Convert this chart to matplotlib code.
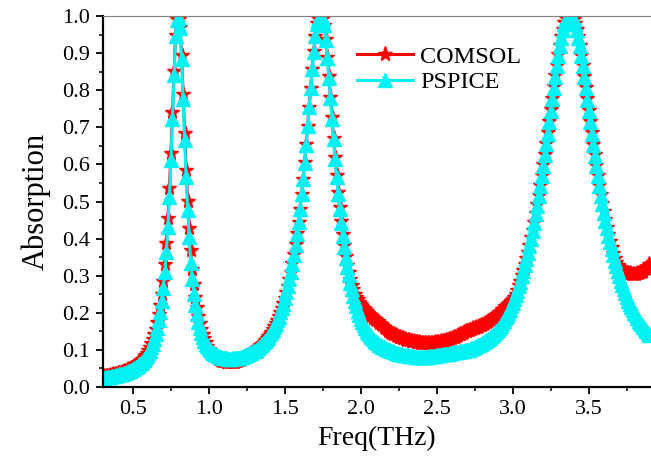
import matplotlib

matplotlib.use("Agg")
import matplotlib.pyplot as plt
import numpy as np
from matplotlib.ticker import MultipleLocator

plt.rcParams["font.family"] = ["Liberation Serif", "DejaVu Serif"]

# frequency sweep (THz), 0.01 THz step
freq_start, freq_stop, freq_step = 0.30, 3.90, 0.01
freq = np.round(np.arange(freq_start, freq_stop + freq_step / 2, freq_step), 2)

comsol = [
    0.028, 0.029, 0.030, 0.030, 0.031, 0.032, 0.033, 0.034, 0.035, 0.036,
    0.037, 0.038, 0.039, 0.041, 0.043, 0.044, 0.046, 0.048, 0.049, 0.052,
    0.054, 0.057, 0.060, 0.063, 0.067, 0.071, 0.075, 0.080, 0.086, 0.093,
    0.100, 0.108, 0.118, 0.129, 0.142, 0.157, 0.175, 0.196, 0.220, 0.250,
    0.287, 0.332, 0.388, 0.455, 0.536, 0.632, 0.740, 0.852, 0.950, 0.992,
    0.993, 0.970, 0.895, 0.790, 0.684, 0.586, 0.501, 0.429, 0.368, 0.318,
    0.277, 0.243, 0.215, 0.192, 0.173, 0.157, 0.143, 0.131, 0.120, 0.111,
    0.103, 0.096, 0.090, 0.085, 0.081, 0.078, 0.075, 0.073, 0.071, 0.070,
    0.069, 0.068, 0.068, 0.067, 0.067, 0.067, 0.068, 0.068, 0.069, 0.070,
    0.072, 0.074, 0.076, 0.078, 0.081, 0.084, 0.087, 0.090, 0.093, 0.096,
    0.099, 0.102, 0.106, 0.109, 0.113, 0.117, 0.121, 0.126, 0.131, 0.137,
    0.143, 0.149, 0.156, 0.164, 0.172, 0.181, 0.191, 0.202, 0.213, 0.226,
    0.240, 0.256, 0.272, 0.291, 0.311, 0.333, 0.358, 0.385, 0.414, 0.446,
    0.481, 0.520, 0.561, 0.606, 0.654, 0.704, 0.755, 0.807, 0.858, 0.905,
    0.947, 0.980, 0.995, 0.999, 0.998, 0.994, 0.977, 0.938, 0.890, 0.838,
    0.783, 0.727, 0.672, 0.620, 0.571, 0.526, 0.485, 0.447, 0.413, 0.382,
    0.354, 0.330, 0.309, 0.291, 0.276, 0.263, 0.252, 0.243, 0.236, 0.230,
    0.225, 0.219, 0.214, 0.209, 0.204, 0.199, 0.195, 0.191, 0.187, 0.183,
    0.180, 0.177, 0.173, 0.170, 0.166, 0.163, 0.159, 0.156, 0.152, 0.149,
    0.146, 0.144, 0.142, 0.140, 0.138, 0.136, 0.134, 0.133, 0.131, 0.130,
    0.128, 0.127, 0.126, 0.125, 0.124, 0.123, 0.122, 0.121, 0.120, 0.119,
    0.119, 0.118, 0.118, 0.118, 0.118, 0.118, 0.118, 0.119, 0.119, 0.120,
    0.120, 0.121, 0.122, 0.123, 0.124, 0.125, 0.126, 0.127, 0.129, 0.130,
    0.132, 0.134, 0.136, 0.138, 0.140, 0.142, 0.144, 0.146, 0.148, 0.150,
    0.152, 0.153, 0.155, 0.156, 0.158, 0.159, 0.161, 0.162, 0.164, 0.166,
    0.168, 0.170, 0.172, 0.175, 0.178, 0.181, 0.184, 0.187, 0.190, 0.194,
    0.198, 0.201, 0.205, 0.209, 0.213, 0.217, 0.221, 0.225, 0.229, 0.233,
    0.238, 0.243, 0.251, 0.262, 0.274, 0.287, 0.301, 0.316, 0.332, 0.348,
    0.365, 0.384, 0.403, 0.424, 0.446, 0.469, 0.493, 0.518, 0.545, 0.572,
    0.601, 0.629, 0.658, 0.687, 0.718, 0.748, 0.779, 0.810, 0.840, 0.869,
    0.897, 0.923, 0.946, 0.966, 0.983, 0.994, 0.998, 0.999, 0.999, 0.997,
    0.993, 0.981, 0.965, 0.945, 0.922, 0.896, 0.868, 0.839, 0.809, 0.778,
    0.747, 0.717, 0.686, 0.656, 0.627, 0.599, 0.572, 0.545, 0.520, 0.496,
    0.474, 0.452, 0.432, 0.412, 0.394, 0.377, 0.361, 0.348, 0.338, 0.330,
    0.324, 0.319, 0.315, 0.312, 0.310, 0.308, 0.307, 0.306, 0.305, 0.305,
    0.305, 0.305, 0.306, 0.307, 0.309, 0.311, 0.314, 0.317, 0.321, 0.326,
    0.331,
]

pspice = [
    0.024, 0.025, 0.026, 0.026, 0.027, 0.028, 0.029, 0.030, 0.031, 0.032,
    0.033, 0.034, 0.035, 0.036, 0.038, 0.039, 0.041, 0.043, 0.044, 0.047,
    0.049, 0.051, 0.054, 0.057, 0.061, 0.064, 0.068, 0.073, 0.078, 0.084,
    0.091, 0.098, 0.107, 0.117, 0.129, 0.143, 0.160, 0.180, 0.203, 0.232,
    0.268, 0.311, 0.365, 0.432, 0.513, 0.611, 0.723, 0.840, 0.945, 0.990,
    0.995, 0.968, 0.885, 0.775, 0.665, 0.565, 0.478, 0.405, 0.335, 0.290,
    0.252, 0.221, 0.196, 0.176, 0.160, 0.145, 0.134, 0.125, 0.116, 0.110,
    0.104, 0.099, 0.095, 0.091, 0.088, 0.085, 0.083, 0.081, 0.080, 0.079,
    0.078, 0.077, 0.077, 0.076, 0.076, 0.076, 0.077, 0.077, 0.078, 0.079,
    0.079, 0.080, 0.082, 0.083, 0.085, 0.087, 0.089, 0.091, 0.093, 0.096,
    0.098, 0.101, 0.105, 0.108, 0.112, 0.116, 0.120, 0.125, 0.130, 0.136,
    0.142, 0.148, 0.155, 0.163, 0.171, 0.180, 0.190, 0.201, 0.212, 0.225,
    0.239, 0.255, 0.271, 0.290, 0.310, 0.332, 0.357, 0.384, 0.413, 0.445,
    0.480, 0.519, 0.560, 0.605, 0.653, 0.703, 0.754, 0.806, 0.857, 0.904,
    0.946, 0.978, 0.990, 0.996, 0.997, 0.992, 0.975, 0.935, 0.887, 0.834,
    0.779, 0.723, 0.668, 0.615, 0.566, 0.521, 0.480, 0.442, 0.408, 0.377,
    0.349, 0.324, 0.302, 0.281, 0.263, 0.246, 0.231, 0.217, 0.205, 0.194,
    0.183, 0.174, 0.166, 0.158, 0.151, 0.145, 0.139, 0.134, 0.129, 0.125,
    0.121, 0.118, 0.114, 0.112, 0.109, 0.107, 0.104, 0.103, 0.101, 0.099,
    0.097, 0.096, 0.094, 0.093, 0.091, 0.090, 0.089, 0.088, 0.087, 0.086,
    0.085, 0.085, 0.084, 0.084, 0.083, 0.083, 0.082, 0.082, 0.082, 0.082,
    0.082, 0.082, 0.082, 0.082, 0.082, 0.083, 0.083, 0.083, 0.084, 0.084,
    0.085, 0.085, 0.086, 0.087, 0.088, 0.088, 0.088, 0.089, 0.090, 0.092,
    0.093, 0.094, 0.094, 0.095, 0.095, 0.096, 0.097, 0.098, 0.098, 0.099,
    0.100, 0.101, 0.103, 0.104, 0.106, 0.108, 0.110, 0.112, 0.114, 0.116,
    0.118, 0.121, 0.123, 0.127, 0.130, 0.133, 0.137, 0.140, 0.145, 0.150,
    0.154, 0.160, 0.165, 0.172, 0.178, 0.185, 0.192, 0.200, 0.208, 0.217,
    0.226, 0.236, 0.247, 0.259, 0.271, 0.284, 0.298, 0.312, 0.328, 0.344,
    0.361, 0.380, 0.399, 0.420, 0.442, 0.465, 0.489, 0.514, 0.541, 0.568,
    0.597, 0.625, 0.654, 0.683, 0.714, 0.744, 0.775, 0.806, 0.836, 0.865,
    0.893, 0.919, 0.942, 0.962, 0.979, 0.991, 0.995, 0.997, 0.997, 0.995,
    0.991, 0.978, 0.961, 0.941, 0.918, 0.892, 0.864, 0.835, 0.805, 0.774,
    0.743, 0.713, 0.682, 0.652, 0.623, 0.595, 0.568, 0.541, 0.516, 0.492,
    0.470, 0.448, 0.428, 0.408, 0.390, 0.373, 0.356, 0.340, 0.326, 0.312,
    0.299, 0.286, 0.274, 0.263, 0.253, 0.243, 0.233, 0.224, 0.216, 0.208,
    0.200, 0.193, 0.186, 0.179, 0.173, 0.167, 0.161, 0.156, 0.151, 0.146,
    0.141,
]

red = "#FF0000"
cyan = "#00F2F2"

fig = plt.figure(figsize=(6.51, 4.61), dpi=100)
ax = fig.add_axes([0.1576, 0.1605, 0.8424, 0.8048])

ax.plot(freq, comsol, color=red, lw=2.2, marker="*", ms=11,
        mec=red, mfc=red, label="COMSOL")
ax.plot(freq, pspice, color=cyan, lw=2.2, marker="^", ms=10,
        mec=cyan, mfc=cyan, label="PSPICE")

ax.set_xlim(0.3, 3.91)
ax.set_ylim(0.0, 1.0)
ax.xaxis.set_major_locator(MultipleLocator(0.5))
ax.xaxis.set_minor_locator(MultipleLocator(0.25))
ax.yaxis.set_major_locator(MultipleLocator(0.1))
ax.yaxis.set_minor_locator(MultipleLocator(0.05))
ax.yaxis.set_major_formatter(plt.FormatStrFormatter("%.1f"))

ax.tick_params(which="major", direction="out", length=5, width=1.3,
               labelsize=16, pad=4)
ax.tick_params(which="minor", direction="out", length=3, width=1.1)

ax.spines["left"].set_linewidth(1.6)
ax.spines["bottom"].set_linewidth(1.6)
ax.spines["top"].set_linewidth(0.8)
ax.spines["top"].set_color("#808080")
ax.spines["right"].set_visible(False)

ax.set_xlabel("Freq(THz)", fontsize=20, labelpad=5)
ax.set_ylabel("Absorption", fontsize=22, labelpad=8)

ax.legend(loc="upper left", bbox_to_anchor=(0.464, 0.92), frameon=False,
          fontsize=17.5, handlelength=2.3, handletextpad=0.3,
          labelspacing=0.15, borderaxespad=0, borderpad=0)

fig.savefig("out.png", dpi=100)
